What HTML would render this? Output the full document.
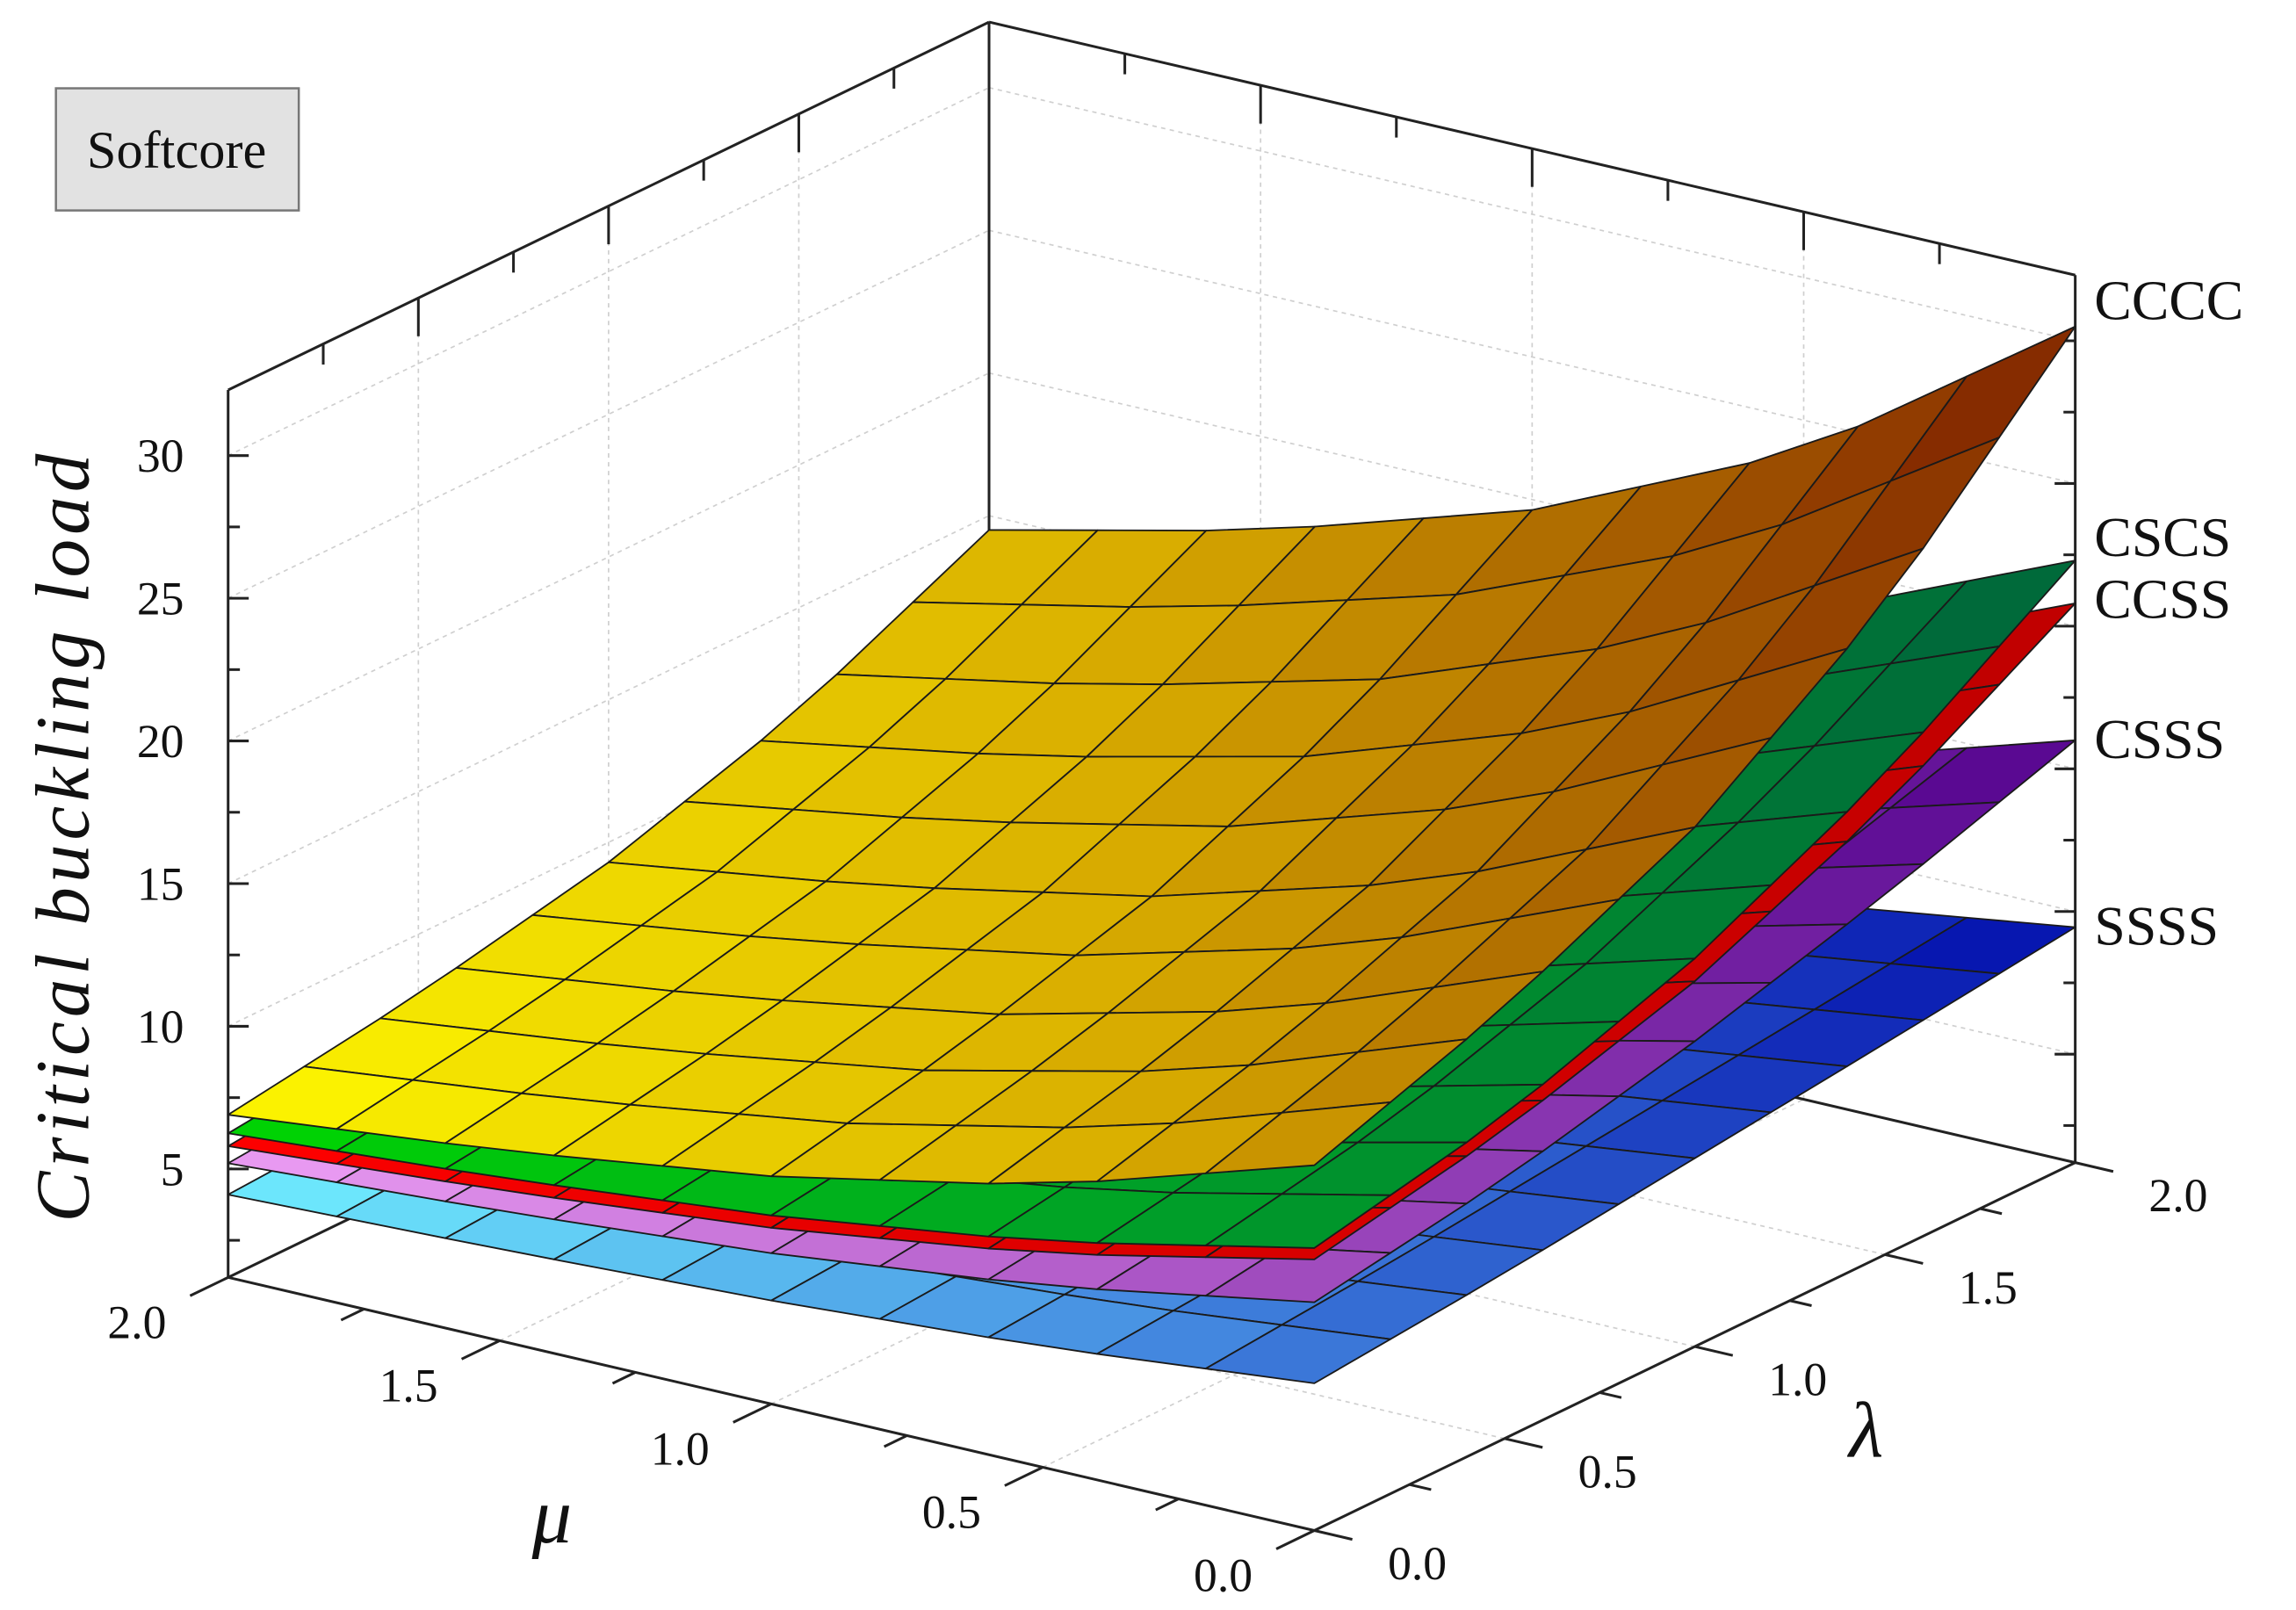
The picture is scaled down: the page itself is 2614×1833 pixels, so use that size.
<!DOCTYPE html>
<html><head><meta charset="utf-8"><style>
html,body{margin:0;padding:0;background:#fff;}
svg{display:block;}
</style></head><body>
<svg id="chart" width="2614" height="1833" viewBox="0 0 1560 1094" preserveAspectRatio="none" xmlns="http://www.w3.org/2000/svg" font-family="'Liberation Serif', serif" fill="#111">
<g id="grid"></g>
<g id="axes"></g>
<g id="surfaces"></g>
<g id="front"></g>
<g>
<rect x="38" y="60" width="165" height="83" fill="#e2e2e2" stroke="#777" stroke-width="1.5"/>
<text x="120" y="114" font-size="36" text-anchor="middle" font-family="'Liberation Serif', serif" fill="#111">Softcore</text>
</g>
<text transform="translate(60,568) rotate(-90)" font-size="52" font-style="italic" text-anchor="middle" letter-spacing="3" font-family="'Liberation Serif', serif" fill="#111">Critical buckling load</text>
<text x="375" y="1048" font-size="54" font-style="italic" text-anchor="middle" font-family="'Liberation Serif', serif" fill="#111">μ</text>
<text x="1268" y="990" font-size="54" font-style="italic" text-anchor="middle" font-family="'Liberation Serif', serif" fill="#111">λ</text>
<script>
// ---- data ----
const lambdaSamples = [0, 0.5, 1.0, 1.5, 2.0];
const muSamples = [0, 0.5, 1.0, 1.5, 2.0];
const muShape = [1, 0.588, 0.321, 0.137, 0];
const surfaceNames = ["SSSS", "CSSS", "CCSS", "CSCS", "CCCC"];
const ssssMu0 = [6.36, 7.0, 7.8, 8.6, 9.45];
const ssssMu2 = [4.1, 4.5, 5.0, 5.55, 6.1];
const csssMu0 = [9.2, 10.3, 11.9, 13.8, 16.0];
const csssMu2 = [5.2, 5.8, 6.7, 7.8, 9.0];
const ccssMu0 = [10.7, 12.0, 14.0, 16.9, 20.8];
const ccssMu2 = [5.8, 6.5, 7.6, 9.1, 11.2];
const cscsMu0 = [11.1, 12.5, 14.8, 18.0, 22.3];
const cscsMu2 = [6.25, 7.0, 8.3, 10.1, 12.5];
const ccccMu0 = [14.0, 16.3, 19.4, 24.0, 30.5];
const ccccMu2 = [6.9, 7.9, 9.3, 11.4, 14.5];
const zTicks = [5, 10, 15, 20, 25, 30];
const zTickLabels = ["5", "10", "15", "20", "25", "30"];
const muTicks = [2.0, 1.5, 1.0, 0.5, 0.0];
const muTickLabels = ["2.0", "1.5", "1.0", "0.5", "0.0"];
const lamTicks = [0.0, 0.5, 1.0, 1.5, 2.0];
const lamTickLabels = ["0.0", "0.5", "1.0", "1.5", "2.0"];

const NS = "http://www.w3.org/2000/svg";
const FONT = "'Liberation Serif', serif";
const ZMIN = 1.2, ZMAX = 32.3, ZS = 19.39;
function P(mu, lam, z) {
  return [893 - 369 * mu + 258.5 * lam, 1040 - 86 * mu - 125 * lam - (z - ZMIN) * ZS];
}
function interp(xs, ys, x) {
  for (let i = 0; i < xs.length - 1; i++) {
    if (x >= xs[i] && x <= xs[i + 1]) {
      const t = (x - xs[i]) / (xs[i + 1] - xs[i]);
      return ys[i] + t * (ys[i + 1] - ys[i]);
    }
  }
  return ys[ys.length - 1];
}
function mk(tag, attrs, parent) {
  const e = document.createElementNS(NS, tag);
  for (const k in attrs) e.setAttribute(k, attrs[k]);
  parent.appendChild(e);
  return e;
}
function line(parent, a, b, st, name) {
  const l = mk("line", { x1: a[0], y1: a[1], x2: b[0], y2: b[1] }, parent);
  for (const k in st) l.setAttribute(k, st[k]);
  
  
  return l;
}
const grid = document.getElementById("grid");
const axes = document.getElementById("axes");
const front = document.getElementById("front");
const surf = document.getElementById("surfaces");
const dash = { stroke: "#cfcfcf", "stroke-width": 1, "stroke-dasharray": "3,3" };
for (const z of zTicks) {
  line(grid, P(2, 0, z), P(2, 2, z), dash, "gridline-left-wall");
  line(grid, P(2, 2, z), P(0, 2, z), dash, "gridline-right-wall");
}
for (const l of lamTicks) line(grid, P(2, l, ZMIN), P(2, l, ZMAX), dash, "gridline-left-wall-vertical");
for (const m of muTicks) line(grid, P(m, 2, ZMIN), P(m, 2, ZMAX), dash, "gridline-right-wall-vertical");
for (const l of lamTicks) line(grid, P(0, l, ZMIN), P(2, l, ZMIN), dash, "gridline-floor");
for (const m of muTicks) line(grid, P(m, 0, ZMIN), P(m, 2, ZMIN), dash, "gridline-floor");
const ax = { stroke: "#222", "stroke-width": 1.8 };
line(axes, P(2, 0, ZMIN), P(2, 0, ZMAX), ax, "z-axis-left");
line(axes, P(2, 0, ZMAX), P(2, 2, ZMAX), ax, "top-left-edge");
line(axes, P(2, 2, ZMAX), P(0, 2, ZMAX), ax, "top-right-edge");
line(axes, P(2, 2, ZMIN), P(2, 2, ZMAX), ax, "back-vertical-edge");
line(axes, P(0, 2, ZMIN), P(0, 2, ZMAX), ax, "z-axis-right");
line(axes, P(2, 0, ZMIN), P(2, 2, ZMIN), ax, "back-floor-edge-left");
line(axes, P(2, 2, ZMIN), P(0, 2, ZMIN), ax, "back-floor-edge-right");
for (let z = 2.5; z <= 32; z += 2.5) {
  const major = Math.abs(z % 5) < 0.01;
  const a = P(2, 0, z), b = P(0, 2, z);
  line(axes, a, [a[0] + (major ? 14 : 8), a[1]], ax, "z-tick-left");
  line(axes, b, [b[0] - (major ? 14 : 8), b[1]], ax, "z-tick-right");
}
for (let v = 0.25; v < 2; v += 0.25) {
  const major = Math.abs(v % 0.5) < 0.01;
  const a = P(2, v, ZMAX);
  line(axes, a, [a[0], a[1] + (major ? 26 : 14)], ax, "top-lambda-tick");
  const b = P(v, 2, ZMAX);
  line(axes, b, [b[0], b[1] + (major ? 26 : 14)], ax, "top-mu-tick");
}
zTicks.forEach((z, i) => {
  const p = P(2, 0, z);
  const t = mk("text", { x: p[0] - 30, y: p[1] + 11, "font-size": 32, "text-anchor": "end", "font-family": FONT, fill: "#111" }, front);
  t.textContent = zTickLabels[i];
  
  
});
const mu0Sets = [ssssMu0, csssMu0, ccssMu0, cscsMu0, ccccMu0];
const mu2Sets = [ssssMu2, csssMu2, ccssMu2, cscsMu2, ccccMu2];
const palettes = [
  [[112, 240, 255], [70, 140, 225], [0, 10, 170]],
  [[238, 160, 245], [175, 90, 200], [80, 0, 140]],
  [[255, 0, 0], [220, 0, 0], [190, 0, 0]],
  [[0, 215, 0], [0, 160, 40], [0, 100, 60]],
  [[255, 250, 0], [215, 170, 0], [125, 30, 0]]
];
function color(pal, t) {
  t = Math.max(0, Math.min(1, t));
  let a, b, u;
  if (t < 0.5) { a = pal[0]; b = pal[1]; u = t / 0.5; } else { a = pal[1]; b = pal[2]; u = (t - 0.5) / 0.5; }
  return "rgb(" + a.map((v, i) => Math.round(v + (b[i] - v) * u)).join(",") + ")";
}
const N = 10;
surfaceNames.forEach((name, s) => {
  const g = mk("g", {}, surf);
  
  
  const Z = (mu, lam) => {
    const a = interp(lambdaSamples, mu0Sets[s], lam);
    const b = interp(lambdaSamples, mu2Sets[s], lam);
    return b + (a - b) * interp(muSamples, muShape, mu);
  };
  const cells = [];
  for (let i = 0; i < N; i++) for (let j = 0; j < N; j++) cells.push([i, j]);
  cells.sort((p, q) => (q[0] + q[1]) - (p[0] + p[1]));
  for (const [i, j] of cells) {
    const m0 = 2 * i / N, m1 = 2 * (i + 1) / N, l0 = 2 * j / N, l1 = 2 * (j + 1) / N;
    const pts = [P(m0, l0, Z(m0, l0)), P(m1, l0, Z(m1, l0)), P(m1, l1, Z(m1, l1)), P(m0, l1, Z(m0, l1))];
    const cx = (pts[0][0] + pts[1][0] + pts[2][0] + pts[3][0]) / 4;
    const pg = mk("polygon", {
      points: pts.map(p => p.join(",")).join(" "),
      fill: color(palettes[s], (cx - 155) / (1410 - 155)),
      stroke: "#1a1a1a", "stroke-width": 1.1, "stroke-linejoin": "round"
    }, g);
    
    
  }
  const e = P(0, 2, Z(0, 2));
  const t = mk("text", { x: 1423, y: e[1] + (name === "CCCC" ? -5 : (name === "CSCS" ? -3 : (name === "CCSS" ? 10 : 12))), "font-size": 38, "font-family": FONT, fill: "#111" }, front);
  t.textContent = name;
  
  
});
line(front, P(2, 0, ZMIN), P(0, 0, ZMIN), ax, "mu-axis");
line(front, P(0, 0, ZMIN), P(0, 2, ZMIN), ax, "lambda-axis");
for (let v = 0; v <= 2.001; v += 0.25) {
  const major = Math.abs(v % 0.5) < 0.01;
  const a = P(v, 0, ZMIN), a2 = P(v, -(major ? 0.1 : 0.06), ZMIN);
  line(front, a, a2, ax, "mu-tick");
  const b = P(0, v, ZMIN), b2 = P(-(major ? 0.07 : 0.04), v, ZMIN);
  line(front, b, b2, ax, "lambda-tick");
}
muTicks.forEach((m, i) => {
  const p = P(m, -0.17, ZMIN);
  const t = mk("text", { x: p[0] - 18, y: p[1] + 20, "font-size": 32, "text-anchor": "middle", "font-family": FONT, fill: "#111" }, front);
  t.textContent = muTickLabels[i];
  
  
});
lamTicks.forEach((l, i) => {
  const p = P(-0.13, l, ZMIN);
  const t = mk("text", { x: p[0] + 22, y: p[1] + 22, "font-size": 32, "text-anchor": "middle", "font-family": FONT, fill: "#111" }, front);
  t.textContent = lamTickLabels[i];
  
  
});
</script>
</svg>
</body></html>
